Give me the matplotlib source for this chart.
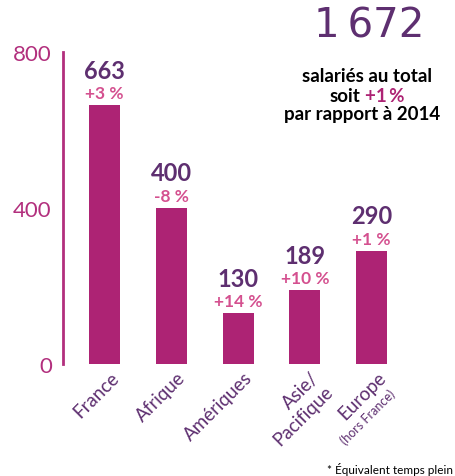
import matplotlib.pyplot as plt
import matplotlib.transforms as mtransforms

regions = ['France', 'Afrique', 'Amériques', 'Asie/\nPacifique', 'Europe']
effectifs = [663, 400, 130, 189, 290]
evolutions = ['+3 %', '-8 %', '+14 %', '+10 %', '+1 %']
yticks = [0, 400, 800]

bar_col = '#ad2374'
purple = '#5e2f70'
pink = '#d4508f'
axis_pink = '#b22f7d'

plt.rcParams['font.family'] = ['Lato', 'DejaVu Sans']

fig = plt.figure(figsize=(4.55, 4.77), dpi=100)
W, H = 455, 477
ax = fig.add_axes([63 / W, 1 - 365 / H, 350 / W, 312 / H])

x = list(range(len(regions)))
ax.bar(x, effectifs, width=0.464, color=bar_col)
ax.set_xlim(-0.622, 4.62)
ax.set_ylim(0, 800)

for xi, v, ev in zip(x, effectifs, evolutions):
    ax.annotate(ev, (xi, v), xytext=(0, 5), textcoords='offset points',
                ha='center', va='baseline', color=pink, fontsize=12.5, fontweight='bold')
    ax.annotate(str(v), (xi, v), xytext=(0, 20), textcoords='offset points',
                ha='center', va='baseline', color=purple, fontsize=17, fontweight='bold')

for s in ['top', 'right', 'bottom']:
    ax.spines[s].set_visible(False)
ax.spines['left'].set_color(axis_pink)
ax.spines['left'].set_linewidth(2)

ax.set_yticks(yticks, [str(t) for t in yticks])
ax.tick_params(axis='y', length=0, pad=8, labelsize=16, labelcolor=axis_pink)
ax.set_xticks(x, regions, rotation=45, ha='right', rotation_mode='anchor',
              multialignment='right')
ax.tick_params(axis='x', length=0, pad=3, labelsize=13.5, labelcolor=purple)
offset = mtransforms.ScaledTranslation(4 / 72, 0, fig.dpi_scale_trans)
for lab in ax.get_xticklabels():
    lab.set_transform(lab.get_transform() + offset)

ax.annotate('(hors France)', (4, 0), xycoords=('data', 'axes fraction'),
            xytext=(12, -16), textcoords='offset points', rotation=45,
            ha='right', va='top', rotation_mode='anchor', color=purple, fontsize=9)

# total block, top right
fig.text(369 / W, 1 - 38 / H, '1\u2009672', ha='center', va='baseline',
         color=purple, fontsize=29, family='DejaVu Sans')
fig.text(367 / W, 1 - 82 / H, 'salariés au total', ha='center', va='baseline',
         fontsize=13.5, fontweight='bold')
fig.text(360 / W, 1 - 102 / H, 'soit', ha='right', va='baseline',
         fontsize=13.5, fontweight='bold')
fig.text(365 / W, 1 - 102 / H, '+1\u2009%', ha='left', va='baseline',
         color=bar_col, fontsize=13.5, fontweight='bold')
fig.text(362 / W, 1 - 120 / H, 'par rapport à 2014', ha='center', va='baseline',
         fontsize=13.5, fontweight='bold')

fig.text(327 / W, 1 - 474 / H, '* Équivalent temps plein', ha='left', va='baseline',
         fontsize=8.5)

fig.savefig('out.png', dpi=100)
